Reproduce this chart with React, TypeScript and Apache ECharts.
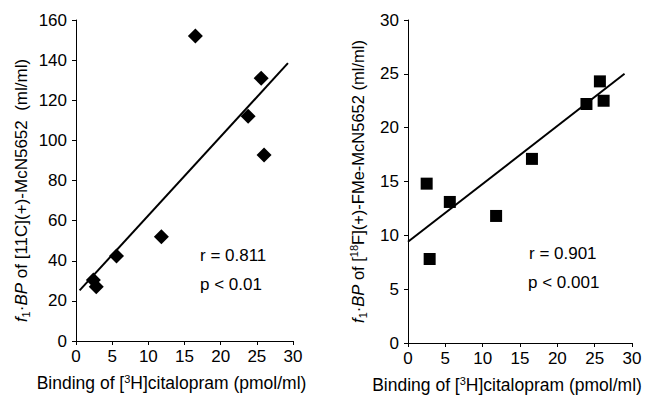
import React, { useEffect, useRef } from "react";
import * as echarts from "echarts";

// Left panel: [11C](+)-McN5652
const leftX = [16.5, 25.6, 23.8, 26.0, 11.8, 5.6, 2.4, 2.8];
const leftY = [152, 131, 112, 92.7, 52, 42.4, 30.4, 27];
const leftFitX = [0.5, 29.3];
const leftFitY = [25.2, 138.5];

// Right panel: [18F](+)-FMe-McN5652
const rightX = [2.5, 5.6, 16.6, 23.9, 25.7, 26.2, 11.8, 2.9];
const rightY = [14.8, 13.1, 17.1, 22.2, 24.3, 22.5, 11.8, 7.8];
const rightFitX = [0, 29.0];
const rightFitY = [9.4, 25.0];

const xTicks = { min: 0, max: 30, interval: 5 };
const leftTicks = { min: 0, max: 160, interval: 20 };
const rightTicks = { min: 0, max: 30, interval: 5 };

const leftStats = ["r = 0.811", "p < 0.01"];
const rightStats = ["r = 0.901", "p < 0.001"];

const FONT = '"Liberation Sans", Arial, Helvetica, sans-serif';
const FS = 17;

function makeRich(fs: number) {
  return {
    n: { fontSize: fs, fontFamily: FONT, color: "#000", lineHeight: 20 },
    i: { fontSize: fs, fontFamily: FONT, color: "#000", fontStyle: "italic", lineHeight: 20 },
    sub: { fontSize: Math.round(fs * 0.65), fontFamily: FONT, color: "#000", verticalAlign: "bottom", lineHeight: 11 },
    sup: { fontSize: Math.round(fs * 0.65), fontFamily: FONT, color: "#000", verticalAlign: "top", lineHeight: 11 },
  };
}

const xName = "{n|Binding of [}{sup|3}{n|H]citalopram (pmol/ml)}";
const leftYName = "{i|f}{sub|1}{n|·}{i|BP}{n| of [11C](+)-McN5652  (ml/ml)}";
const rightYName = "{i|f}{sub|1}{n|·}{i|BP}{n| of [}{sup|18}{n|F](+)-FMe-McN5652 (ml/ml)}";

function axisBase(margin: number) {
  return {
    axisLine: { show: true, onZero: false, lineStyle: { color: "#000", width: 1 } },
    axisTick: { show: true, inside: false, length: 4, lineStyle: { color: "#000" } },
    axisLabel: { color: "#000", fontSize: FS, fontFamily: FONT, margin },
    splitLine: { show: false },
  };
}

export default function App() {
  const ref = useRef<HTMLDivElement>(null);
  useEffect(() => {
    document.body.style.margin = "0";
    const chart = echarts.init(ref.current!, null, { renderer: "svg" });
    const option = {
      animation: false,
      backgroundColor: "#fff",
      grid: [
        { left: 76, top: 20, width: 217, height: 321, outerBoundsMode: "none", containLabel: false },
        { left: 408, top: 20, width: 224, height: 323, outerBoundsMode: "none", containLabel: false },
      ],
      xAxis: [0, 1].map((g) => ({
        type: "value",
        gridIndex: g,
        ...xTicks,
        ...axisBase(7),
        name: xName,
        nameLocation: "middle",
        nameGap: 32,
        nameTextStyle: { rich: makeRich(17.5), padding: [0, 26, 0, 0] },
      })),
      yAxis: [
        {
          type: "value",
          gridIndex: 0,
          ...leftTicks,
          ...axisBase(9),
          name: leftYName,
          nameLocation: "middle",
          nameGap: 45,
          nameTextStyle: { rich: makeRich(17), padding: [0, 20, 0, 0] },
        },
        {
          type: "value",
          gridIndex: 1,
          ...rightTicks,
          ...axisBase(9),
          name: rightYName,
          nameLocation: "middle",
          nameGap: 40,
          nameTextStyle: { rich: makeRich(16.5) },
        },
      ],
      series: [
        {
          type: "line",
          xAxisIndex: 0,
          yAxisIndex: 0,
          data: leftFitX.map((x, i) => [x, leftFitY[i]]),
          symbol: "none",
          lineStyle: { color: "#000", width: 2 },
          z: 1,
        },
        {
          type: "scatter",
          xAxisIndex: 0,
          yAxisIndex: 0,
          data: leftX.map((x, i) => [x, leftY[i]]),
          symbol: "diamond",
          symbolSize: 15,
          itemStyle: { color: "#000", opacity: 1 },
          z: 2,
        },
        {
          type: "line",
          xAxisIndex: 1,
          yAxisIndex: 1,
          data: rightFitX.map((x, i) => [x, rightFitY[i]]),
          symbol: "none",
          lineStyle: { color: "#000", width: 2 },
          z: 1,
        },
        {
          type: "scatter",
          xAxisIndex: 1,
          yAxisIndex: 1,
          data: rightX.map((x, i) => [x, rightY[i]]),
          symbol: "rect",
          symbolSize: 12,
          itemStyle: { color: "#000", opacity: 1 },
          z: 2,
        },
      ],
      graphic: [
        { type: "text", left: 200, top: 247, style: { text: leftStats[0], fontSize: FS, fontFamily: FONT, fill: "#000" } },
        { type: "text", left: 200, top: 276, style: { text: leftStats[1], fontSize: FS, fontFamily: FONT, fill: "#000" } },
        { type: "text", left: 529, top: 245, style: { text: rightStats[0], fontSize: FS, fontFamily: FONT, fill: "#000" } },
        { type: "text", left: 528, top: 274, style: { text: rightStats[1], fontSize: FS, fontFamily: FONT, fill: "#000" } },
      ],
    };
    chart.setOption(option as any);
    return () => chart.dispose();
  }, []);
  return <div ref={ref} style={{ width: 646, height: 395 }} />;
}
